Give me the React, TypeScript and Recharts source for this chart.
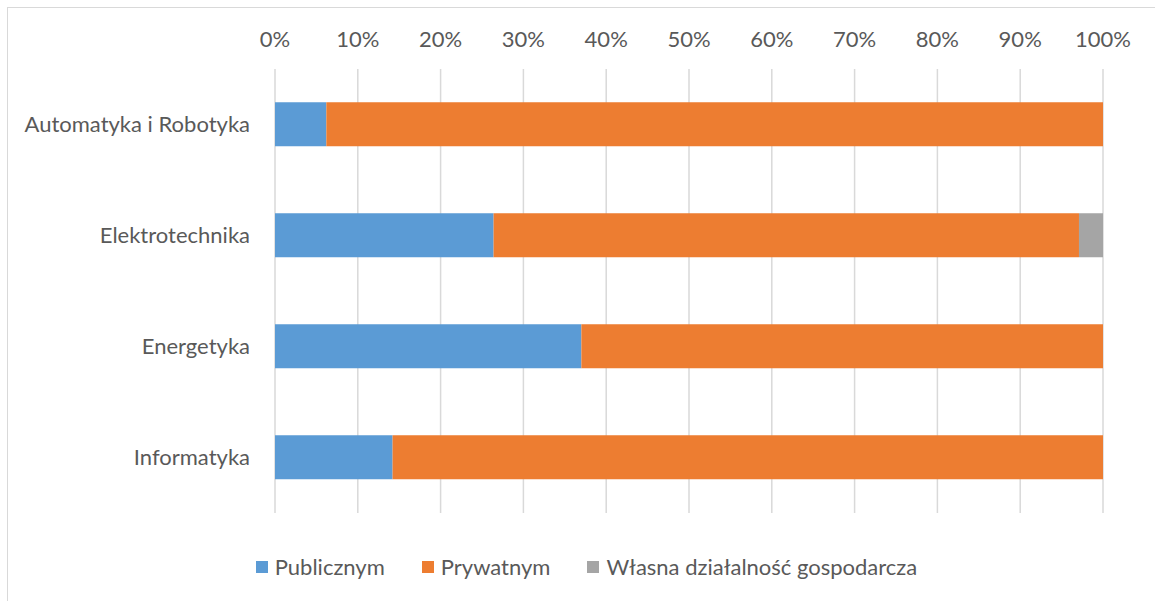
import React from "react";
import { Bar, BarChart, CartesianGrid, Legend, XAxis, YAxis } from "recharts";

const categories = ["Automatyka i Robotyka", "Elektrotechnika", "Energetyka", "Informatyka"];
const publiczny = [6.2, 26.4, 37.0, 14.2];
const prywatny = [93.8, 70.7, 63.0, 85.8];
const wlasna = [0, 2.9, 0, 0];
const percentTicks = [0, 10, 20, 30, 40, 50, 60, 70, 80, 90, 100];

const seriesNames = ["Publicznym", "Prywatnym", "Własna działalność gospodarcza"];
const seriesColors = ["#5B9BD5", "#ED7D31", "#A5A5A5"];

const data = categories.map((name, i) => ({
  name,
  publiczny: publiczny[i],
  prywatny: prywatny[i],
  wlasna: wlasna[i],
}));

const font = "Lato, 'Open Sans', sans-serif";
const textColor = "#595959";

function LegendBox() {
  return (
    <div style={{ height: 78, boxSizing: "border-box", paddingTop: 29, paddingLeft: 60, display: "flex", justifyContent: "center", fontFamily: font, fontSize: 22, color: textColor, lineHeight: "26px" }}>
      {seriesNames.map((n, i) => (
        <div key={n} style={{ display: "flex", alignItems: "center", marginLeft: i === 0 ? 0 : 37 }}>
          <span style={{ width: 12, height: 12, background: seriesColors[i], display: "inline-block", marginRight: 7 }} />
          <span>{n}</span>
        </div>
      ))}
    </div>
  );
}

export default function App() {
  return (
    <div style={{ position: "absolute", left: 0, top: 0, width: 1155, height: 601, overflow: "hidden", background: "#fff" }}>
      <div style={{ position: "absolute", left: 7, top: 7, width: 1300, height: 800, border: "1px solid #D9D9D9" }} />
      <div style={{ position: "absolute", left: 0, top: 0 }}>
        <BarChart
          width={1155}
          height={601}
          data={data}
          layout="vertical"
          barCategoryGap="30%"
          margin={{ top: 29, right: 52, bottom: 10, left: 10 }}
        >
          <CartesianGrid horizontal={false} stroke="#D9D9D9" strokeWidth={1.5} />
          <XAxis
            type="number"
            orientation="top"
            domain={[0, 100]}
            ticks={percentTicks}
            tickFormatter={(v) => `${v}%`}
            axisLine={false}
            tickLine={false}
            tickSize={0}
            tickMargin={22}
            height={40}
            interval={0}
            tick={{ fill: textColor, fontSize: 22, fontFamily: font }}
          />
          <YAxis
            type="category"
            dataKey="name"
            width={265}
            axisLine={false}
            tickLine={false}
            tickSize={0}
            tickMargin={25}
            tick={{ fill: textColor, fontSize: 22, fontFamily: font }}
          />
          <Legend verticalAlign="bottom" content={() => <LegendBox />} />
          <Bar dataKey="publiczny" name={seriesNames[0]} stackId="a" fill={seriesColors[0]} isAnimationActive={false} />
          <Bar dataKey="prywatny" name={seriesNames[1]} stackId="a" fill={seriesColors[1]} isAnimationActive={false} />
          <Bar dataKey="wlasna" name={seriesNames[2]} stackId="a" fill={seriesColors[2]} isAnimationActive={false} />
        </BarChart>
      </div>
    </div>
  );
}
